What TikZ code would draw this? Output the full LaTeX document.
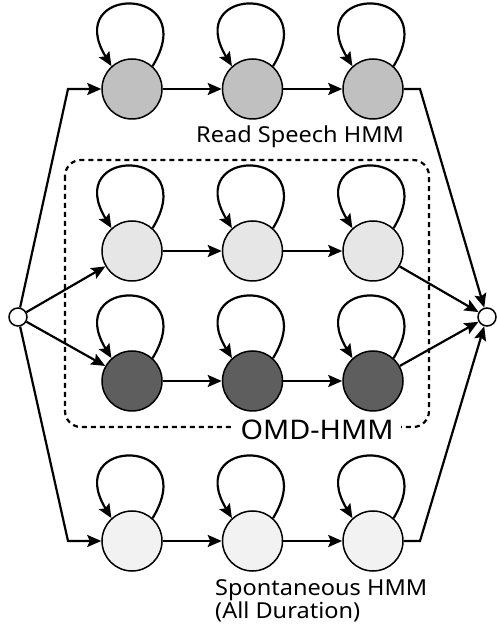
\documentclass[tikz,border=0pt]{standalone}
\usepackage{fontspec}
\setmainfont{Noto Sans}[FakeStretch=1.07]
\usetikzlibrary{arrows.meta}
\definecolor{cA}{HTML}{C0C0C0}
\definecolor{cB}{HTML}{E6E6E6}
\definecolor{cC}{HTML}{5E5E5E}
\definecolor{cD}{HTML}{F2F2F2}
\tikzset{
  state/.style={circle,draw=black,line width=1.5pt,minimum size=60pt,inner sep=0pt},
  term/.style={circle,draw=black,fill=white,line width=1.5pt,minimum size=18pt,inner sep=0pt},
  arr/.style={line width=2.2pt,-{Stealth[length=14pt,width=12pt,inset=2.5pt]}},
  loopc/.style={line width=2.2pt,-{Stealth[length=14pt,width=12pt,inset=2.5pt]}},
  lbl/.style={font=\fontsize{22}{24}\selectfont,inner sep=0pt},
  boxd/.style={line width=2.2pt,dash pattern=on 5pt off 4pt,rounded corners=16pt}
}
\begin{document}
\begin{tikzpicture}[x=1pt,y=1pt]
\useasboundingbox (0,0) rectangle (496,627);
% dashed group box
\draw[boxd] (65,467) rectangle (429,200);
\node[fill=white,inner xsep=8pt,inner ysep=1pt,anchor=base,font=\fontsize{27}{30}\selectfont] (omd) at (317,187) {OMD-HMM};
% terminals
\node[term] (L) at (18,310) {};
\node[term] (R) at (487,310) {};
% states
\foreach \r/\y/\c in {1/538/cA,2/376/cB,3/246/cC,4/86/cD}{
  \node[state,fill=\c] (n\r1) at (132,\y) {};
  \node[state,fill=\c] (n\r2) at (252.5,\y) {};
  \node[state,fill=\c] (n\r3) at (373,\y) {};
}
% self loops and chain transitions
\foreach \r in {1,2,3,4}{
  \foreach \k in {1,2,3}{
    \draw[loopc] (n\r\k.48) .. controls +(50,82) and +(-50,82) .. (n\r\k.132);
  }
  \draw[arr] (n\r1) -- (n\r2);
  \draw[arr] (n\r2) -- (n\r3);
}
% bend points
\coordinate (tl) at (68,538);
\coordinate (bl) at (68,86);
\coordinate (tr) at (420,538);
\coordinate (br) at (420,86);
% entries
\draw[arr] (L) -- (tl) -- (n11);
\draw[arr] (L) -- (n21);
\draw[arr] (L) -- (n31);
\draw[arr] (L) -- (bl) -- (n41);
% exits
\draw[arr] (n13) -- (tr) -- (R);
\draw[arr] (n23) -- (R);
\draw[arr] (n33) -- (R);
\draw[arr] (n43) -- (br) -- (R);
% labels
\node[lbl,anchor=base west] (rs) at (196,484) {Read Speech HMM};
\node[lbl,anchor=base west] (sp1) at (215,31) {Spontaneous HMM};
\node[lbl,anchor=base west] (sp2) at (215,9) {(All Duration)};
\end{tikzpicture}
\end{document}
